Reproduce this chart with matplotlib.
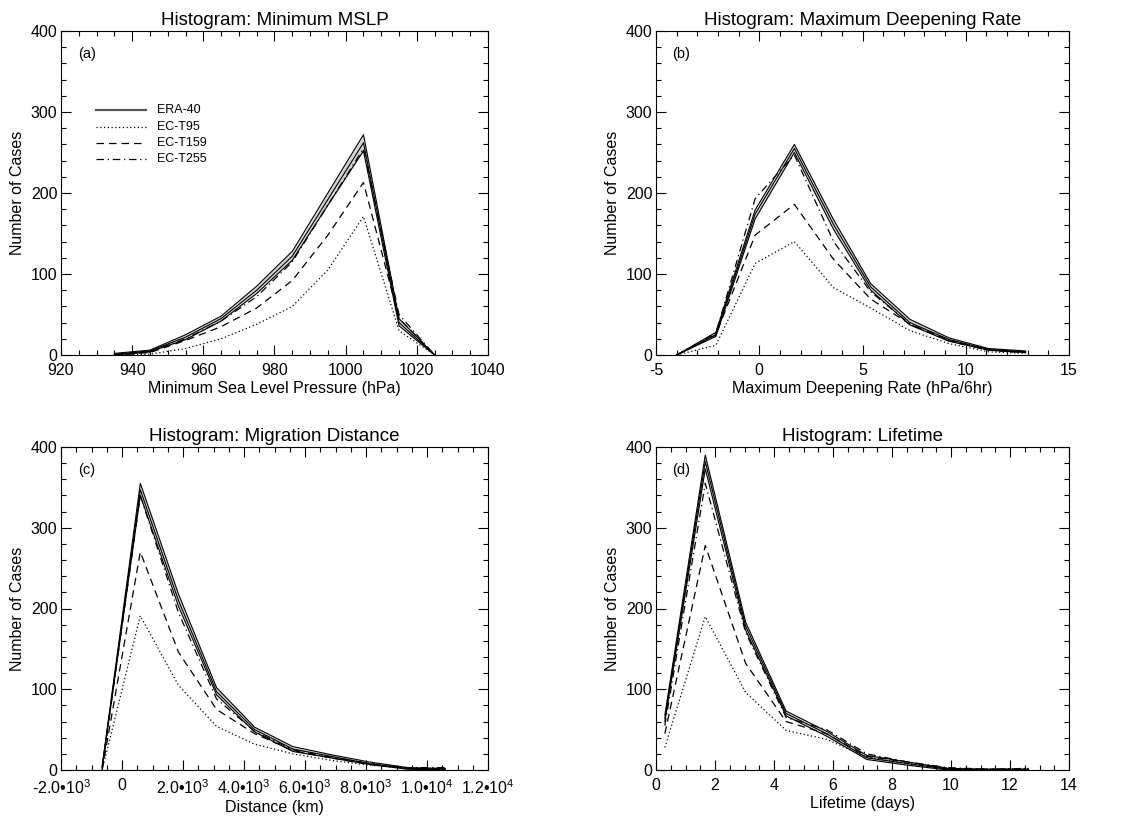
import matplotlib
matplotlib.use("Agg")
import matplotlib.pyplot as plt
from matplotlib.ticker import MultipleLocator

plt.rcParams['font.family'] = ['Liberation Sans', 'DejaVu Sans']
plt.rcParams['mathtext.fontset'] = 'custom'
plt.rcParams['mathtext.rm'] = 'Liberation Sans'
plt.rcParams['mathtext.it'] = 'Liberation Sans:italic'
plt.rcParams['mathtext.bf'] = 'Liberation Sans:bold'
plt.rcParams['axes.unicode_minus'] = False

# (a) minimum MSLP
mslp_x = [935, 945, 955, 965, 975, 985, 995, 1005, 1015, 1025]
mslp_era = [1, 5, 22, 45, 80, 122, 192, 262, 40, 0]
mslp_era_hi = [2, 6, 25, 48, 85, 128, 200, 272, 45, 0]
mslp_era_lo = [0, 4, 19, 42, 76, 117, 185, 252, 36, 0]
mslp_t95 = [0, 1, 8, 20, 38, 60, 105, 171, 30, 0]
mslp_t159 = [0, 3, 18, 35, 58, 92, 148, 213, 45, 0]
mslp_t255 = [0, 4, 20, 42, 72, 115, 185, 255, 50, 0]

# (b) maximum deepening rate
dr_x = [-4.0, -2.1, -0.2, 1.7, 3.6, 5.4, 7.3, 9.2, 11.1, 12.9]
dr_era = [0, 25, 174, 255, 161, 84, 40, 19, 7, 4]
dr_era_hi = [0, 28, 179, 260, 167, 88, 44, 21, 8, 5]
dr_era_lo = [0, 23, 168, 250, 155, 80, 37, 17, 6, 3]
dr_t95 = [0, 12, 113, 140, 83, 58, 30, 14, 4, 2]
dr_t159 = [0, 25, 148, 186, 118, 69, 38, 18, 6, 3]
dr_t255 = [0, 27, 193, 247, 140, 78, 38, 17, 6, 3]

# (c) migration distance
dist_x = [-650, 600, 1850, 3100, 4350, 5600, 6850, 8100, 9350, 10600]
dist_era = [4, 347, 210, 97, 50, 26, 17, 8, 2, 1]
dist_era_hi = [5, 355, 218, 102, 53, 29, 19, 10, 3, 2]
dist_era_lo = [3, 340, 203, 93, 47, 23, 15, 7, 1, 0]
dist_t95 = [0, 191, 105, 54, 32, 20, 12, 6, 2, 1]
dist_t159 = [0, 270, 146, 75, 45, 24, 15, 7, 2, 1]
dist_t255 = [2, 340, 195, 88, 48, 25, 16, 8, 3, 3]

# (d) lifetime
life_x = [0.3, 1.67, 3.04, 4.41, 5.78, 7.15, 8.52, 9.89, 11.26, 12.63]
life_era = [64, 382, 178, 70, 45, 15, 8, 1, 0, 0]
life_era_hi = [68, 390, 183, 73, 48, 18, 10, 2, 1, 1]
life_era_lo = [60, 373, 173, 67, 42, 13, 6, 0, 0, 0]
life_t95 = [28, 190, 96, 49, 38, 16, 8, 1, 1, 2]
life_t159 = [45, 278, 132, 60, 45, 17, 10, 2, 1, 1]
life_t255 = [55, 355, 170, 65, 50, 20, 10, 3, 1, 2]

names = ['ERA-40', 'EC-T95', 'EC-T159', 'EC-T255']
styles = ['-', (0, (1, 2)), (0, (6, 4)), (0, (6, 3, 1, 3))]


def draw_panel(ax, x, era, hi, lo, t95, t159, t255):
    ax.fill_between(x, lo, hi, color='#d4d4d4', lw=0)
    ax.plot(x, hi, color='black', lw=0.8)
    ax.plot(x, era, color='black', lw=0.8)
    ax.plot(x, lo, color='black', lw=0.8)
    ax.plot(x, t95, color='black', lw=0.9, ls=styles[1])
    ax.plot(x, t159, color='black', lw=0.9, ls=styles[2])
    ax.plot(x, t255, color='black', lw=0.9, ls=styles[3])


def style_axes(ax, title, xlabel, letter, xlim, xmajor, xminor):
    ax.set_xlim(xlim)
    ax.set_ylim(0, 400)
    ax.xaxis.set_major_locator(MultipleLocator(xmajor))
    ax.xaxis.set_minor_locator(MultipleLocator(xminor))
    ax.yaxis.set_major_locator(MultipleLocator(100))
    ax.yaxis.set_minor_locator(MultipleLocator(20))
    ax.tick_params(which='both', direction='in', top=True, right=True,
                   labelsize=11.5, width=0.8)
    ax.tick_params(which='major', length=7)
    ax.tick_params(which='minor', length=3.5)
    ax.tick_params(axis='x', which='major', pad=6)
    ax.tick_params(axis='y', which='major', pad=2.5)
    for s in ax.spines.values():
        s.set_linewidth(0.8)
    ax.set_title(title, fontsize=13.5, pad=4)
    ax.set_xlabel(xlabel, fontsize=11.5, labelpad=2)
    ax.set_ylabel('Number of Cases', fontsize=11.5, labelpad=4)
    ax.text(0.04, 0.93, letter, transform=ax.transAxes, fontsize=10.5,
            va='center', ha='left')


fig = plt.figure(figsize=(11.36, 8.16), dpi=100)
W, H = 1136, 816

ax_a = fig.add_axes([61 / W, (816 - 355) / H, 427 / W, 324 / H])
ax_b = fig.add_axes([656 / W, (816 - 355) / H, 413 / W, 324 / H])
ax_c = fig.add_axes([61 / W, (816 - 770) / H, 427 / W, 323 / H])
ax_d = fig.add_axes([656 / W, (816 - 770) / H, 413 / W, 323 / H])

draw_panel(ax_a, mslp_x, mslp_era, mslp_era_hi, mslp_era_lo, mslp_t95, mslp_t159, mslp_t255)
style_axes(ax_a, 'Histogram: Minimum MSLP', 'Minimum Sea Level Pressure (hPa)', '(a)',
           (920, 1040), 20, 5)

draw_panel(ax_b, dr_x, dr_era, dr_era_hi, dr_era_lo, dr_t95, dr_t159, dr_t255)
style_axes(ax_b, 'Histogram: Maximum Deepening Rate', 'Maximum Deepening Rate (hPa/6hr)', '(b)',
           (-5, 15), 5, 1)

draw_panel(ax_c, dist_x, dist_era, dist_era_hi, dist_era_lo, dist_t95, dist_t159, dist_t255)
style_axes(ax_c, 'Histogram: Migration Distance', 'Distance (km)', '(c)',
           (-2000, 12000), 2000, 500)
dist_ticks = [-2000, 0, 2000, 4000, 6000, 8000, 10000, 12000]
dist_labels = ['-2.0\u202210$^{3}$', '0', '2.0\u202210$^{3}$', '4.0\u202210$^{3}$',
               '6.0\u202210$^{3}$', '8.0\u202210$^{3}$', '1.0\u202210$^{4}$', '1.2\u202210$^{4}$']
ax_c.set_xticks(dist_ticks)
ax_c.set_xticklabels(dist_labels)

draw_panel(ax_d, life_x, life_era, life_era_hi, life_era_lo, life_t95, life_t159, life_t255)
style_axes(ax_d, 'Histogram: Lifetime', 'Lifetime (days)', '(d)',
           (0, 14), 2, 0.5)

# legend drawn by hand in panel (a)
for i, (name, ls) in enumerate(zip(names, styles)):
    yy = 0.755 - i * 0.05
    if i == 0:
        ax_a.plot([0.083, 0.2], [yy, yy], transform=ax_a.transAxes, color='#555555', lw=1.6, ls=ls)
    else:
        ax_a.plot([0.083, 0.2], [yy, yy], transform=ax_a.transAxes, color='black', lw=0.9, ls=ls)
    ax_a.text(0.225, yy, name, transform=ax_a.transAxes, fontsize=9, va='center', ha='left')

fig.savefig('out.png', dpi=100)
